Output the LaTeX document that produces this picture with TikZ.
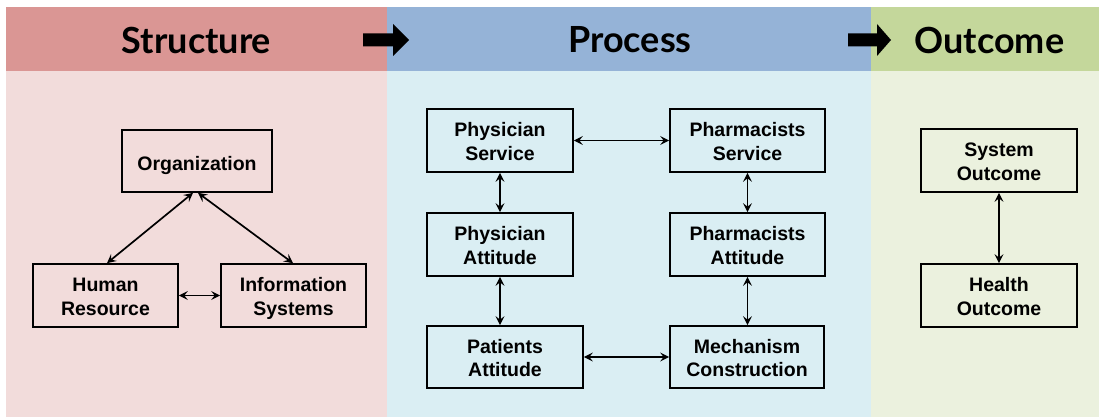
\documentclass[tikz,border=0pt]{standalone}
\usepackage{fontspec}
\setmainfont{Liberation Sans}
\newfontfamily\headfont{Lato}
\usetikzlibrary{arrows.meta,calc}
\definecolor{hdrR}{RGB}{218,150,148}
\definecolor{bgR}{RGB}{242,220,219}
\definecolor{hdrB}{RGB}{149,179,215}
\definecolor{bgB}{RGB}{218,238,243}
\definecolor{hdrG}{RGB}{196,215,155}
\definecolor{bgG}{RGB}{235,241,222}
\tikzset{
  box/.style={draw=black, line width=1.7pt, rectangle, align=center, inner sep=0pt,
    font=\fontsize{19.5}{23.4}\selectfont\bfseries, text depth=4pt, text height=43pt},
  oneline/.style={text height=22pt},
  link/.style={line width=1.7pt, {Stealth[length=9pt,width=9pt,inset=3.5pt]}-{Stealth[length=9pt,width=9pt,inset=3.5pt]}},
  head/.style={font=\headfont\fontsize{36}{40}\selectfont\bfseries, inner sep=0pt},
  blockarrow/.style={fill=black, draw=none}
}
\begin{document}
\begin{tikzpicture}[x=1pt,y=-1pt]
\useasboundingbox (0,0) rectangle (1099,417);
\fill[white] (0,0) rectangle (1099,417);
% panels
\fill[hdrR] (6,7) rectangle (387,71);
\fill[bgR] (6,71) rectangle (387,417);
\fill[hdrB] (387,7) rectangle (871,71);
\fill[bgB] (387,71) rectangle (871,417);
\fill[hdrG] (871,7) rectangle (1099,71);
\fill[bgG] (871,71) rectangle (1099,417);
% headings
\node[head] (hs) at (196.5,40) {Structure};
\node[head] (hp) at (630,40) {Process};
\node[head] (ho) at (989.5,40) {Outcome};
% block arrows
\fill[blockarrow] (363,33.5) -- (393,33.5) -- (393,24) -- (409,40) -- (393,56) -- (393,46.5) -- (363,46.5) -- cycle;
\fill[blockarrow] (848,33.5) -- (877,33.5) -- (877,24) -- (891,40) -- (877,56) -- (877,46.5) -- (848,46.5) -- cycle;
% structure
\node[box, oneline, minimum width=150pt, minimum height=62pt] (org) at (197,161) {Organization};
\node[box, minimum width=145pt, minimum height=63pt] (hr) at (105.5,295.5) {Human\\Resource};
\node[box, minimum width=145pt, minimum height=63pt] (is) at (293.5,295.5) {Information\\Systems};
% process
\node[box, minimum width=146pt, minimum height=63pt] (ps) at (500,140.5) {Physician\\Service};
\node[box, minimum width=155pt, minimum height=63pt] (phs) at (747.5,140.5) {Pharmacists\\Service};
\node[box, minimum width=146pt, minimum height=63pt] (pa) at (500,244.5) {Physician\\Attitude};
\node[box, minimum width=155pt, minimum height=63pt] (pha) at (747.5,244.5) {Pharmacists\\Attitude};
\node[box, minimum width=156pt, minimum height=62pt] (pat) at (505,357) {Patients\\Attitude};
\node[box, minimum width=154pt, minimum height=62pt] (mech) at (747,357) {Mechanism\\Construction};
% outcome
\node[box, minimum width=156pt, minimum height=63pt] (so) at (999,160.5) {System\\Outcome};
\node[box, minimum width=156pt, minimum height=63pt] (ho2) at (999,295.5) {Health\\Outcome};
% connectors
\draw[link] ($(org.south)+(-4,0)$) -- ($(hr.north)+(1.5,0)$);
\draw[link] ($(org.south)+(1,0)$) -- ($(is.north)+(-0.5,0)$);
\draw[link] (hr.east) -- (is.west);
\draw[link] (ps.east) -- (phs.west);
\draw[link] (ps.south) -- (pa.north);
\draw[link] (phs.south) -- (pha.north);
\draw[link] (pa.south) -- (pa.south |- pat.north);
\draw[link] (pha.south) -- (pha.south |- mech.north);
\draw[link] (pat.east) -- (mech.west);
\draw[link] (so.south) -- (ho2.north);
\end{tikzpicture}
\end{document}
